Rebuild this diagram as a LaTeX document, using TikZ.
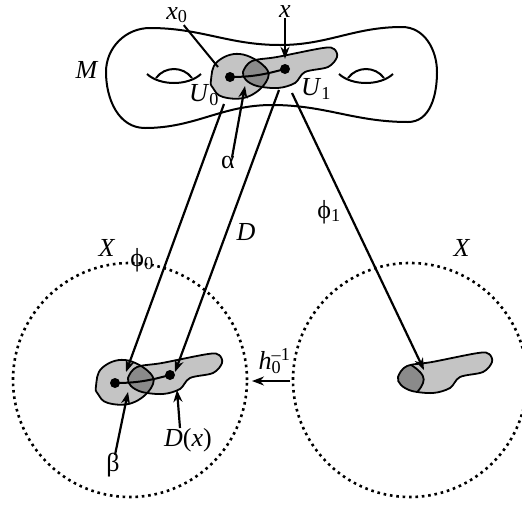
\documentclass[tikz,border=0pt]{standalone}
\usepackage{fontspec}
\setmainfont{Liberation Serif}
\usepackage{tikz}
\usetikzlibrary{arrows.meta,positioning,calc}
\definecolor{patchgray}{RGB}{196,196,196}
\definecolor{overlapgray}{RGB}{138,138,138}
% the two chart domains, in coordinates relative to the left dot
\newcommand{\patchzero}{plot[smooth cycle,tension=0.7] coordinates {(-19,-3) (-13,15) (10,23) (35,10) (36,-5) (17,-20) (-7,-20) (-17,-11)}}
\newcommand{\patchone}{plot[smooth cycle,tension=0.55] coordinates {(13,5) (22,16) (47,20) (93,29) (104,28) (107,20) (98,10) (75,5) (65,-6) (48,-11) (27,-9) (16,-3)}}

\begin{document}
\begin{tikzpicture}[x=1pt,y=1pt,>={Stealth[length=12pt,width=9pt]}]
  \tikzstyle{lbl}=[inner sep=0pt,font=\fontsize{26}{30}\selectfont]
  \tikzstyle{dot}=[circle,fill=black,inner sep=0pt,minimum size=10pt]
  \tikzstyle{edge}=[line width=2pt]
  \tikzstyle{rim}=[line width=1.8pt]
  \tikzstyle{map}=[->,line width=2.2pt]
  \tikzstyle{region}=[line width=2.6pt,dash pattern=on 2.6pt off 3.8pt]
  \useasboundingbox (0,0) rectangle (522,-504);

  % surface M
  \draw[edge] (106,-72) to[out=90,in=180] (150,-28) to[out=0,in=180] (280,-45)
    to[out=0,in=180] (402,-27) to[out=0,in=90] (437,-72) to[out=-90,in=0] (408,-122)
    to[out=180,in=0] (272,-105) to[out=180,in=0] (145,-128) to[out=180,in=-90] cycle;
  \foreach \hx in {174,366} {
    \draw[edge] (\hx-27,-74) .. controls (\hx-14,-86) and (\hx+14,-86) .. (\hx+27,-74);
    \draw[edge] (\hx-18,-78) .. controls (\hx-9,-66) and (\hx+9,-66) .. (\hx+18,-78);
  }

  % U0 and U1 on M
  \begin{scope}[shift={(230,-77)}]
    \fill[patchgray] \patchzero;
    \fill[patchgray] \patchone;
    \begin{scope}
      \clip \patchzero;
      \fill[overlapgray] \patchone;
    \end{scope}
    \draw[rim] \patchzero;
    \draw[rim] \patchone;
    \node[dot] (x0) at (0,0) {};
    \node[dot] (x) at (55,8) {};
    \draw[edge] (x0.center) to[out=0,in=195] (x.center);
  \end{scope}

  % image in X under phi_0 and D
  \begin{scope}[shift={(115,-383)}]
    \fill[patchgray] \patchzero;
    \fill[patchgray] \patchone;
    \begin{scope}
      \clip \patchzero;
      \fill[overlapgray] \patchone;
    \end{scope}
    \draw[rim] \patchzero;
    \draw[rim] \patchone;
    \node[dot] (y0) at (0,0) {};
    \node[dot] (y1) at (55,8) {};
    \draw[edge] (y0.center) to[out=0,in=195] (y1.center);
  \end{scope}

  % image in X under phi_1
  \begin{scope}[shift={(385,-382)}]
    \fill[patchgray] \patchone;
    \begin{scope}
      \clip \patchone;
      \fill[overlapgray] \patchzero;
      \draw[rim] \patchzero;
    \end{scope}
    \draw[rim] \patchone;
  \end{scope}

  % the two copies of X
  \draw[region] (130,-380) circle (117);
  \draw[region] (410,-380) circle (117);

  % labels
  \node[lbl] (lblM) at (87,-70) {\textit{M}};
  \node[lbl] (lblx0) at (177,-15) {\textit{x}\textsubscript{0}};
  \node[lbl] (lblx) at (285,-12) {\textit{x}};
  \node[lbl] (lblU0) at (204,-95) {\textit{U}\textsubscript{0}};
  \node[lbl] (lblU1) at (316,-89) {\textit{U}\textsubscript{1}};
  \node[lbl] (lblalpha) at (228,-162) {α};
  \node[lbl] (lblphi0) at (142,-260) {ϕ\textsubscript{0}};
  \node[lbl] (lblD) at (246,-232) {\textit{D}};
  \node[lbl] (lblphi1) at (329,-212) {ϕ\textsubscript{1}};
  \node[lbl] (lblXl) at (107,-248) {\textit{X}};
  \node[lbl] (lblXr) at (462,-248) {\textit{X}};
  \node[lbl] (lblh) at (270,-361) {\textit{h}\rlap{\textsuperscript{--1}}\textsubscript{0}};
  \node[lbl] (lblbeta) at (113,-465) {β};
  \node[lbl] (lblDx) at (188,-440) {\textit{D}(\textit{x})};

  % pointers
  \coordinate (pa) at (245,-86);
  \coordinate (pb) at (128,-392);
  \coordinate (pd) at (177,-390);
  \coordinate (px0) at (218,-67);
  \draw[edge] (lblx0.south east) ++(-4,-2) -- (px0);
  \draw[map,shorten >=5pt] (lblx) -- (x);
  \draw[map] (lblalpha.north) ++(4,-2) -- (pa);
  \draw[map] (lblbeta.north) ++(2,-2) -- (pb);
  \draw[map] (lblDx.north west) ++(16,0) -- (pd);

  % chart maps
  \coordinate (s0) at (224,-104);
  \coordinate (t0) at (126,-372);
  \coordinate (sD) at (279,-90);
  \coordinate (tD) at (175,-372);
  \coordinate (s1) at (292,-93);
  \coordinate (t1) at (424,-370);
  \coordinate (hs) at (290,-381);
  \coordinate (ht) at (252,-381);
  \draw[map] (s0) -- (t0);
  \draw[map] (sD) -- (tD);
  \draw[map] (s1) -- (t1);
  \draw[map] (hs) -- (ht);
\end{tikzpicture}
\end{document}
